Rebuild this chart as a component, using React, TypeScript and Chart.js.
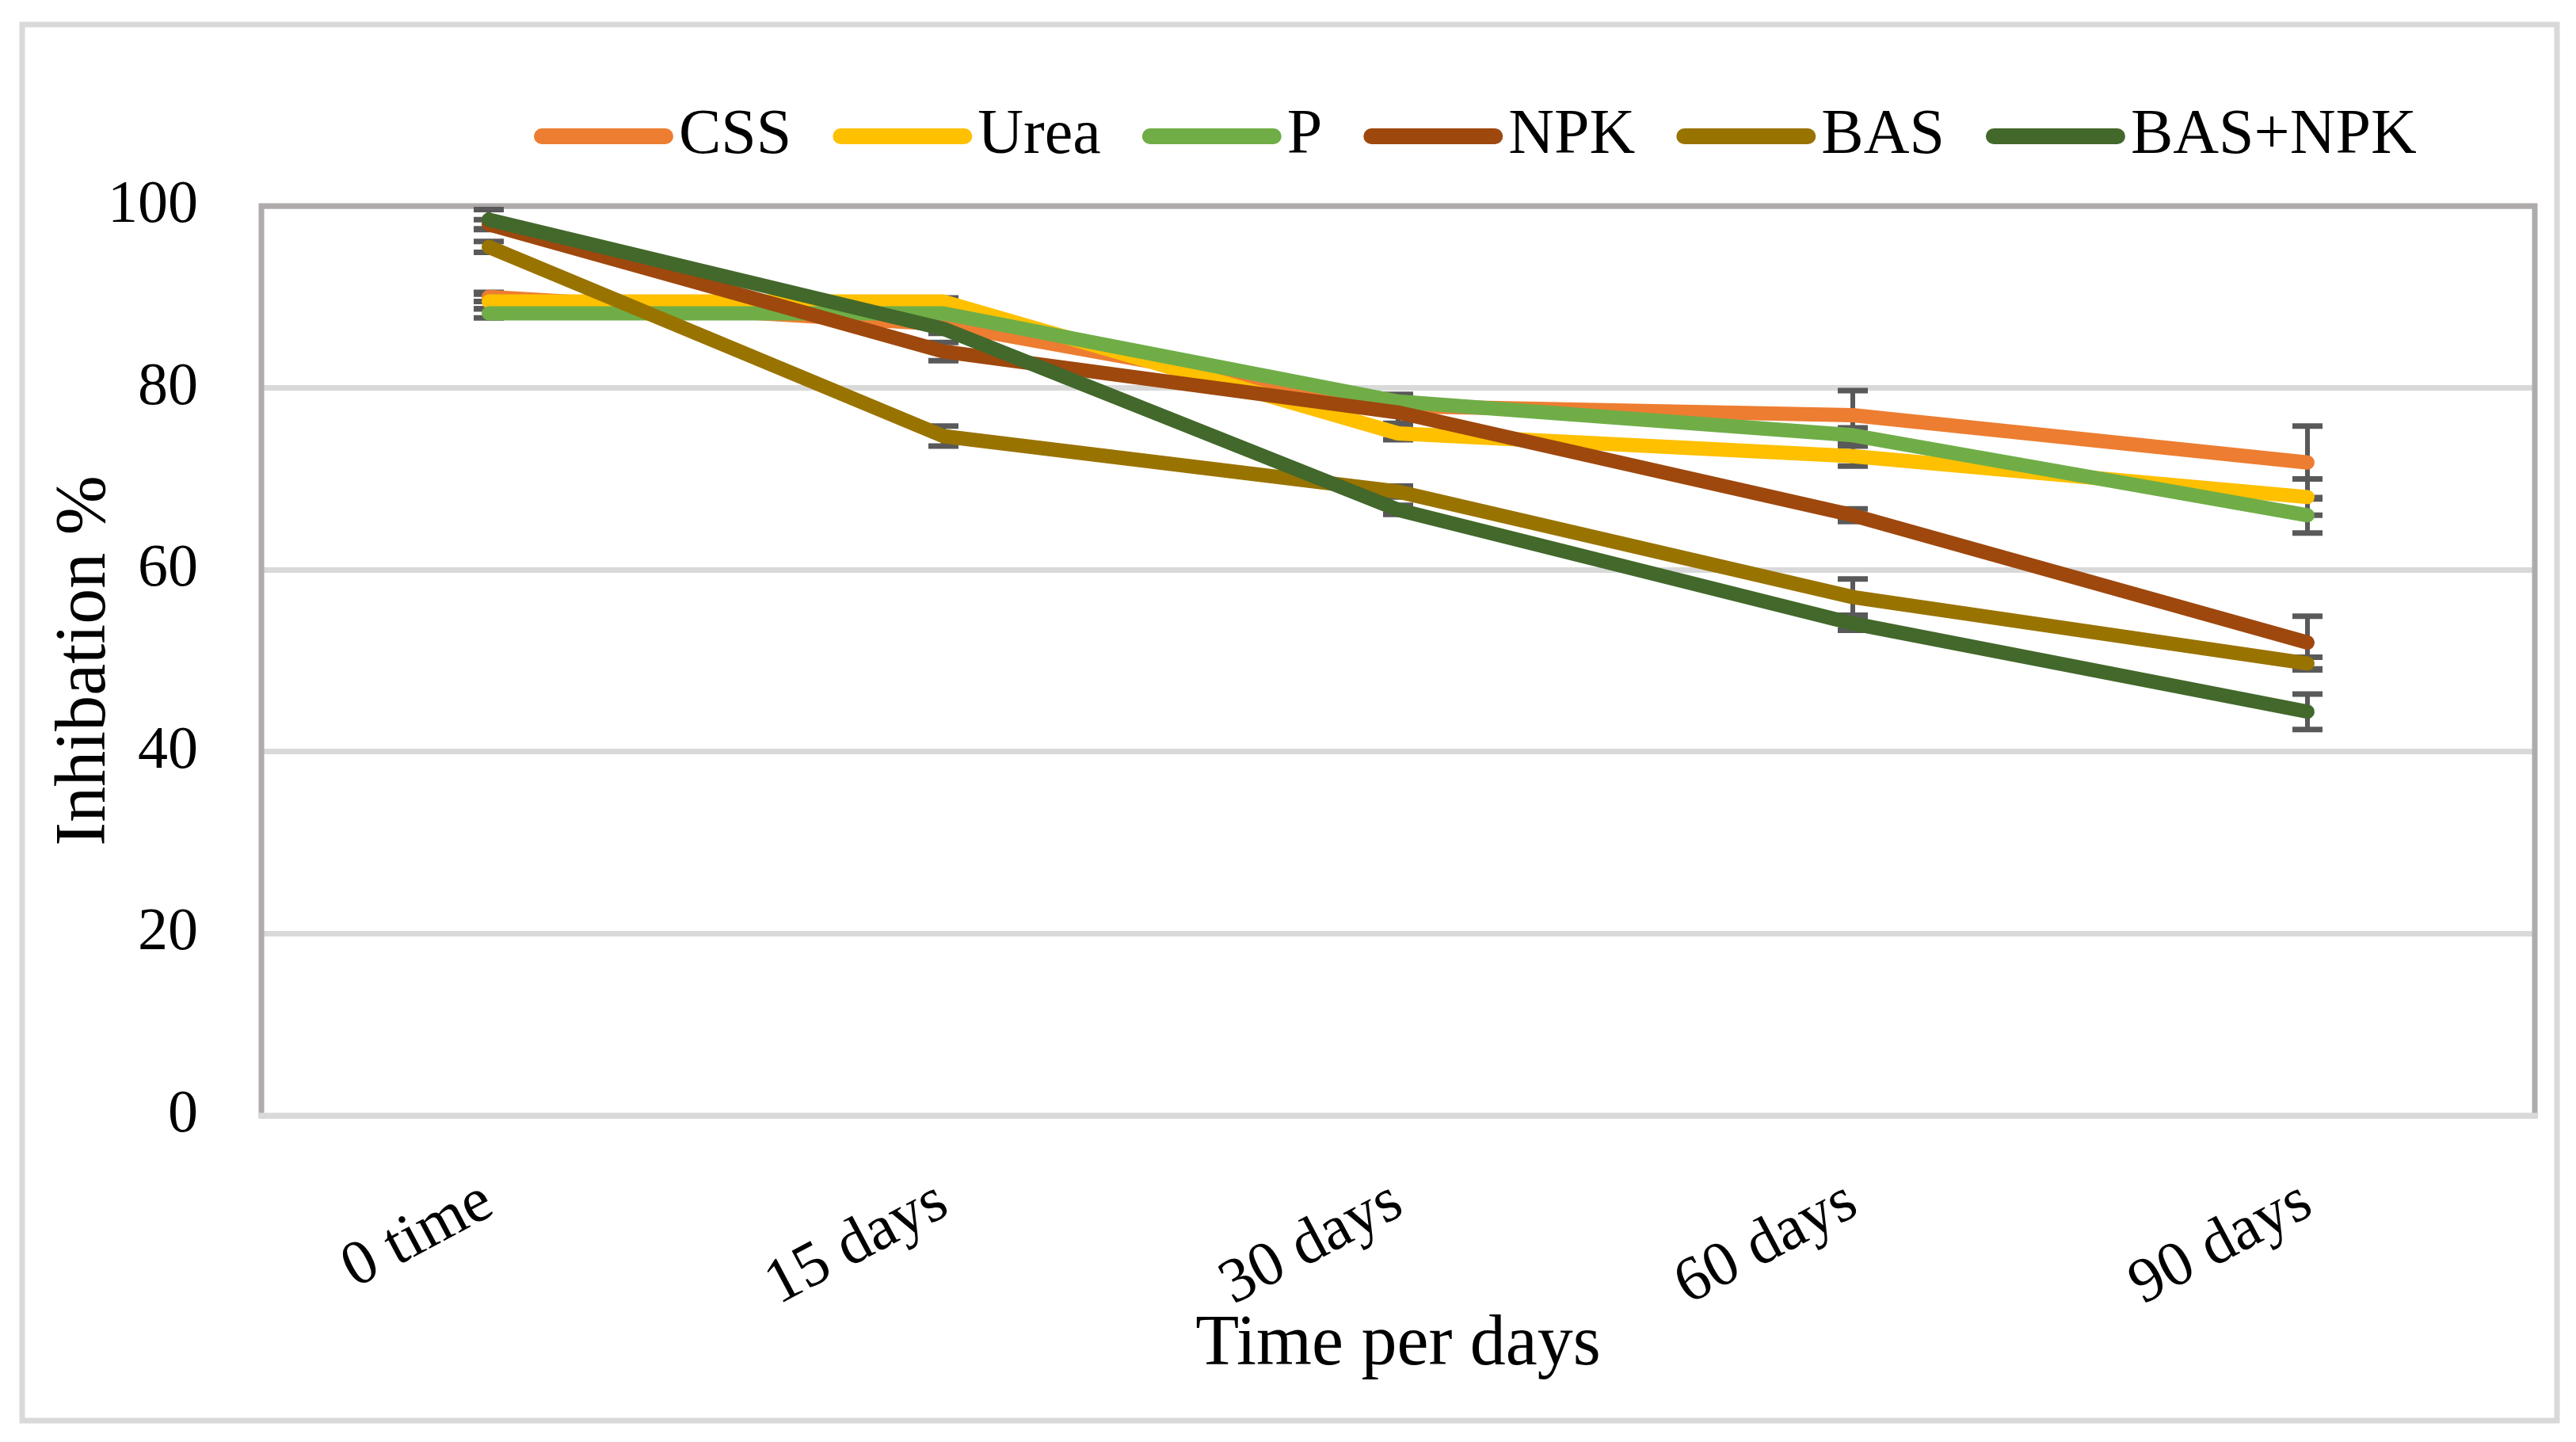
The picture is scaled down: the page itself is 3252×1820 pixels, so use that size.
import React, { useEffect, useRef } from "react";
import { Chart, registerables } from "chart.js";

Chart.register(...registerables);

const FONT = "'Liberation Serif', 'Times New Roman', serif";

const categories = ["0 time", "15 days", "30 days", "60 days", "90 days"];
const seriesNames = ["CSS", "Urea", "P", "NPK", "BAS", "BAS+NPK"];
const seriesColors = ["#ED7D31", "#FFC000", "#70AD47", "#9E480E", "#997300", "#43682B"];

const cssValues = [90.0, 87.0, 78.0, 77.0, 71.8];
const ureaValues = [89.5, 89.5, 75.0, 72.5, 68.0];
const pValues = [88.2, 88.2, 78.5, 74.8, 66.0];
const npkValues = [98.0, 84.0, 77.3, 66.0, 52.0];
const basValues = [95.5, 74.7, 68.6, 57.0, 49.7];
const basNpkValues = [98.5, 86.5, 66.6, 54.1, 44.4];

const cssErr = [0.5, 0.5, 0.5, 2.7, 4.0];
const ureaErr = [0.8, 0.4, 0.7, 1.1, 2.0];
const pErr = [0.5, 0.5, 0.8, 0.8, 1.95];
const npkErr = [0.5, 1.0, 1.2, 0.7, 2.9];
const basErr = [0.6, 1.1, 0.6, 2.0, 0.7];
const basNpkErr = [1.1, 0.5, 0.5, 0.75, 1.95];

const yTicks = [0, 20, 40, 60, 80, 100];
const yTitle = "Inhibation %";
const xTitle = "Time per days";

const allValues = [cssValues, ureaValues, pValues, npkValues, basValues, basNpkValues];
const allErrors = [cssErr, ureaErr, pErr, npkErr, basErr, basNpkErr];

const framePlugin = {
  id: "frame",
  beforeDraw(chart: any) {
    const { ctx, width, height } = chart;
    ctx.save();
    ctx.fillStyle = "#FFFFFF";
    ctx.fillRect(0, 0, width, height);
    ctx.strokeStyle = "#D9D9D9";
    ctx.lineWidth = 7;
    ctx.strokeRect(28, 31, 3200, 1762);
    ctx.restore();
  },
  beforeDatasetsDraw(chart: any) {
    const { ctx, chartArea } = chart;
    const { left, right, top, bottom } = chartArea;
    ctx.save();
    ctx.strokeStyle = "#AFABAB";
    ctx.lineWidth = 7;
    ctx.lineCap = "square";
    ctx.beginPath();
    ctx.moveTo(left, bottom);
    ctx.lineTo(left, top);
    ctx.lineTo(right, top);
    ctx.lineTo(right, bottom);
    ctx.stroke();
    ctx.strokeStyle = "#D9D9D9";
    ctx.beginPath();
    ctx.moveTo(left, bottom);
    ctx.lineTo(right, bottom);
    ctx.stroke();
    // error bars
    const xs = chart.scales.x;
    const ys = chart.scales.y;
    ctx.strokeStyle = "#595959";
    ctx.lineCap = "butt";
    chart.data.datasets.forEach((ds: any) => {
      const errs: number[] = ds.errorBars || [];
      (ds.data as number[]).forEach((v, j) => {
        const e = errs[j];
        if (!e) return;
        const px = xs.getPixelForValue(j);
        const pt = ys.getPixelForValue(v + e);
        const pb = ys.getPixelForValue(v - e);
        ctx.lineWidth = 6;
        ctx.beginPath();
        ctx.moveTo(px, pt);
        ctx.lineTo(px, pb);
        ctx.stroke();
        ctx.lineWidth = 7;
        ctx.beginPath();
        ctx.moveTo(px - 19, pt);
        ctx.lineTo(px + 19, pt);
        ctx.moveTo(px - 19, pb);
        ctx.lineTo(px + 19, pb);
        ctx.stroke();
      });
    });
    ctx.restore();
  },
  afterDraw(chart: any) {
    const { ctx } = chart;
    ctx.save();
    ctx.font = `80px ${FONT}`;
    ctx.textBaseline = "middle";
    ctx.textAlign = "left";
    let x = 674;
    const y = 172;
    chart.data.datasets.forEach((ds: any) => {
      ctx.strokeStyle = ds.borderColor;
      ctx.lineWidth = 20;
      ctx.lineCap = "round";
      ctx.beginPath();
      ctx.moveTo(x + 10, y);
      ctx.lineTo(x + 166, y);
      ctx.stroke();
      x += 183;
      ctx.fillStyle = "#000000";
      ctx.fillText(ds.label, x, y);
      x += ctx.measureText(ds.label).width + 52;
    });
    ctx.restore();
  },
};

export default function App() {
  const canvasRef = useRef<HTMLCanvasElement | null>(null);

  useEffect(() => {
    document.body.style.margin = "0";
    const canvas = canvasRef.current;
    if (!canvas) return;
    const datasets = seriesNames.map((name, i) => ({
      label: name,
      data: allValues[i],
      errorBars: allErrors[i],
      borderColor: seriesColors[i],
      backgroundColor: seriesColors[i],
      borderWidth: 18,
      borderCapStyle: "round",
      borderJoinStyle: "round",
      pointRadius: 0,
      pointHoverRadius: 0,
      tension: 0,
      fill: false,
      order: seriesNames.length - 1 - i,
    }));
    const chart = new Chart(canvas, {
      type: "line",
      data: { labels: categories, datasets: datasets as any },
      options: {
        animation: false,
        responsive: true,
        maintainAspectRatio: false,
        devicePixelRatio: 1,
        layout: { padding: { left: 0, top: 260, right: 52, bottom: 0 } },
        plugins: {
          legend: { display: false },
          tooltip: { enabled: false },
        },
        scales: {
          x: {
            type: "category",
            offset: true,
            grid: { display: false, drawTicks: false },
            border: { display: false },
            ticks: {
              color: "#000000",
              font: { family: FONT, size: 80 },
              minRotation: 28,
              maxRotation: 28,
              padding: 62,
              autoSkip: false,
            },
            title: {
              display: true,
              text: xTitle,
              color: "#000000",
              font: { family: FONT, size: 90, lineHeight: 1.2 },
              padding: { top: 0, bottom: 68 },
            },
            afterFit: (s: any) => {
              s.height = 412;
            },
          },
          y: {
            min: 0,
            max: 100,
            grid: { color: "#D9D9D9", lineWidth: 7, drawTicks: false },
            border: { display: false },
            afterBuildTicks: (s: any) => {
              s.ticks = yTicks.map((v) => ({ value: v }));
            },
            ticks: {
              color: "#000000",
              font: { family: FONT, size: 76 },
              padding: 80,
            },
            title: {
              display: true,
              text: yTitle,
              color: "#000000",
              font: { family: FONT, size: 90, lineHeight: 1.2 },
              padding: { top: 54, bottom: 0 },
            },
            afterFit: (s: any) => {
              s.width = 330;
            },
          },
        },
      },
      plugins: [framePlugin],
    });
    return () => chart.destroy();
  }, []);

  return (
    <div style={{ width: 3252, height: 1820, position: "relative" }}>
      <canvas ref={canvasRef} />
    </div>
  );
}
